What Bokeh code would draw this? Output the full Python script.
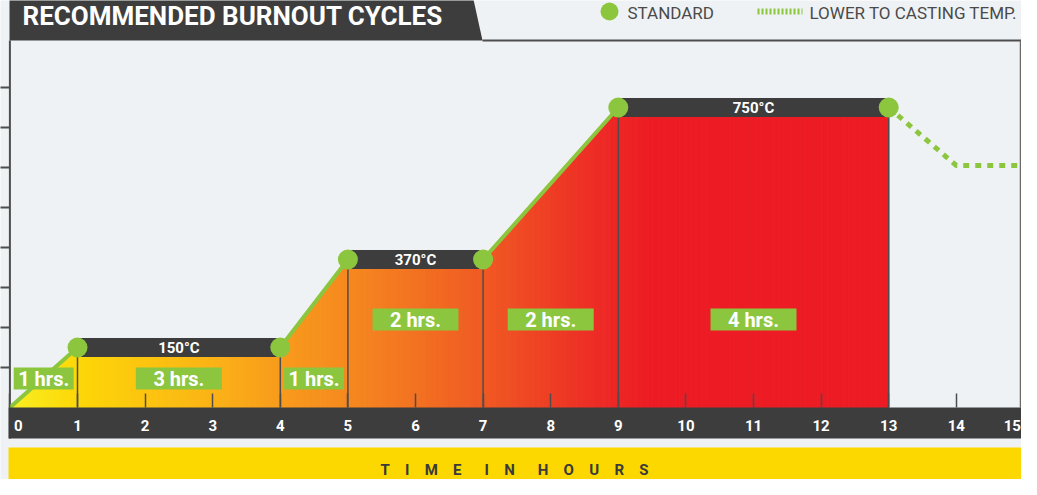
import numpy as np
from bokeh.plotting import figure
from bokeh.models import Range1d, FixedTicker
from bokeh.core.properties import value
from bokeh.embed import file_html
from bokeh.resources import INLINE

# ---------------- data ----------------
TITLE = "RECOMMENDED BURNOUT CYCLES"
X_LABEL = "TIME IN HOURS"
hours = [0, 1, 4, 5, 7, 9, 13]              # standard cycle, time (h)
temps = [0, 150, 150, 370, 370, 750, 750]   # standard cycle, temperature (deg C)
cool_hours = [13, 14, 15]                   # lower to casting temperature
cool_temps = [750, 605, 605]
hour_ticks = list(range(16))
hour_tick_labels = [str(h) for h in hour_ticks]
temp_ticks = [100, 200, 300, 400, 500, 600, 700, 800]
legend_labels = ["STANDARD", "LOWER TO CASTING TEMP."]
unit = "\u00b0C"
duration_suffix = " hrs."

# ---------------- style ----------------
W, H = 1021, 479
BG = "#eff2f4"
DARK = "#3d3d3d"
LINE = "#4d4d4d"
GREEN = "#8cc63f"
YELLOW = "#fdd700"
FONT = value("Roboto")

X0_PX, PX_PER_HOUR = 9.4, 67.6     # pixel of hour 0, pixels per hour
Y0_PX, PX_PER_DEG = 407.0, 0.4     # pixel of 0 deg C, pixels per degree


def dx(px):
    return (px - X0_PX) / PX_PER_HOUR


def dy(py):
    return (Y0_PX - py) / PX_PER_DEG


p = figure(width=W, height=H, x_range=Range1d(dx(0), dx(W)), y_range=Range1d(dy(H), dy(0)),
           output_backend="svg", toolbar_location=None, min_border=0,
           min_border_left=0, min_border_right=0, min_border_top=0, min_border_bottom=0)
p.background_fill_color = BG
p.border_fill_color = BG
p.outline_line_color = None
p.xgrid.visible = False
p.ygrid.visible = False

# axes drawn inside the frame (ticks only; labels drawn in the dark band below)
for ax, ticks in ((p.xaxis, hour_ticks), (p.yaxis, temp_ticks)):
    ax.fixed_location = 0
    ax.ticker = FixedTicker(ticks=ticks)
    ax.axis_line_color = None
    ax.major_tick_line_color = LINE
    ax.minor_tick_line_color = None
    ax.major_label_text_color = None
p.xaxis.major_tick_in = 14
p.xaxis.major_tick_out = 0
p.xaxis.major_tick_line_width = 1.5
p.yaxis.major_tick_in = 0
p.yaxis.major_tick_out = 14
p.yaxis.major_tick_line_width = 2

# title tab and frame
p.patch([dx(9), dx(471), dx(482), dx(9)], [dy(-10), dy(-10), dy(40), dy(40)],
        fill_color=DARK, line_color=None)
p.segment([dx(482)], [dy(40)], [dx(W)], [dy(40)], line_color=LINE, line_width=2)
p.segment([0], [dy(40)], [0], [dy(438)], line_color=LINE, line_width=2)
p.segment([dx(1020)], [dy(40)], [dx(1020)], [0], line_color="#6a6a6a", line_width=1.5)
p.text([dx(22)], [dy(15.5)], text=[TITLE], text_color="white", text_font=FONT,
       text_font_size="26px", text_font_style="bold", text_baseline="middle")

# gradient fill under the standard cycle
stops_x = [0, 1, 3, 4, 5, 7, 8.5, 9.5, 13]
stops_c = ["#f8ef22", "#fdd708", "#fbb316", "#f89b1c", "#f6891f", "#f05a23",
           "#ed3025", "#ed1c24", "#ed1c24"]
rgb = np.array([[int(c[i:i + 2], 16) for i in (1, 3, 5)] for c in stops_c], dtype=float)
edges = np.linspace(hours[0], hours[-1], 261)
tops = np.interp(edges, hours, temps)
mids = (edges[:-1] + edges[1:]) / 2
cols = ["#%02x%02x%02x" % tuple(int(round(np.interp(m, stops_x, rgb[:, k]))) for k in range(3))
        for m in mids]
xs = [[a, b, b, a] for a, b in zip(edges[:-1], edges[1:])]
ys = [[0, 0, tb, ta] for ta, tb in zip(tops[:-1], tops[1:])]
p.patches(xs, ys, fill_color=cols, line_color=cols, line_width=1)

# plateaus
plat = [(hours[i], hours[i + 1], temps[i]) for i in range(len(hours) - 1)
        if temps[i] == temps[i + 1]]
ends_x = [h for a, b, t in plat for h in (a, b)]
ends_y = [t for a, b, t in plat for _ in (0, 1)]
p.segment(ends_x, [0] * len(ends_x), ends_x, ends_y, line_color=LINE, line_width=1.5)

# standard and cooling lines
p.line(hours, temps, line_color=GREEN, line_width=4)
p.line(cool_hours, cool_temps, line_color=GREEN, line_width=5, line_dash="6 6")

p.rect([(a + b) / 2 for a, b, t in plat], [t for a, b, t in plat],
       width=[b - a for a, b, t in plat], height=19, height_units="screen",
       fill_color=DARK, line_color=None)
p.text([(a + b) / 2 for a, b, t in plat], [t for a, b, t in plat],
       text=[f"{t}{unit}" for a, b, t in plat], text_color="white", text_font=FONT,
       text_font_size="15px", text_font_style="bold", text_align="center",
       text_baseline="middle")
p.scatter(ends_x, ends_y, size=20, fill_color=GREEN, line_color=None)

# duration labels
seg_x, seg_y, seg_w, seg_t = [], [], [], []
for i in range(len(hours) - 1):
    d = hours[i + 1] - hours[i]
    seg_x.append((hours[i] + hours[i + 1]) / 2)
    seg_y.append(dy(378) if temps[i] <= 150 else dy(319))
    seg_w.append(60 if d < 2 else 86)
    seg_t.append(f"{d}{duration_suffix}")
p.rect(seg_x, seg_y, width=seg_w, height=22, width_units="screen", height_units="screen",
       fill_color=GREEN, line_color=None)
p.text(seg_x, seg_y, text=seg_t, text_color="white", text_font=FONT, text_font_size="20px",
       text_font_style="bold", text_align="center", text_baseline="middle")

# bottom bands
p.quad(left=[dx(8)], right=[dx(W + 2)], top=[0], bottom=[dy(438)], fill_color=DARK,
       line_color=None)
p.quad(left=[dx(8)], right=[dx(W + 2)], top=[dy(447)], bottom=[dy(H + 2)],
       fill_color=YELLOW, line_color=None)
n = len(hour_ticks)
p.text(hour_ticks, [dy(425)] * n, text=hour_tick_labels, text_color="white", text_font=FONT,
       text_font_size="15px", text_font_style="bold",
       text_align=["left"] + ["center"] * (n - 2) + ["right"],
       x_offset=[4] + [0] * (n - 2) + [-3], text_baseline="middle")
spaced = "\u2003\u2002".join("\u2003".join(w) for w in X_LABEL.split())
p.text([dx(514)], [dy(469)], text=[spaced], text_color="#3a3a3a", text_font=FONT,
       text_font_size="15px", text_font_style="bold", text_align="center",
       text_baseline="middle")

# legend
p.scatter([dx(609)], [dy(11)], size=18, fill_color=GREEN, line_color=None)
p.text([dx(627)], [dy(12)], text=[legend_labels[0]], text_color="#4a4a4a", text_font=FONT,
       text_font_size="17px", text_baseline="middle")
p.segment([dx(757)], [dy(11)], [dx(802)], [dy(11)], line_color=GREEN, line_width=6,
          line_dash="2 2")
p.text([dx(809)], [dy(12)], text=[legend_labels[1]], text_color="#4a4a4a", text_font=FONT,
       text_font_size="17px", text_baseline="middle")

open("out.html", "w").write(file_html(p, INLINE))
